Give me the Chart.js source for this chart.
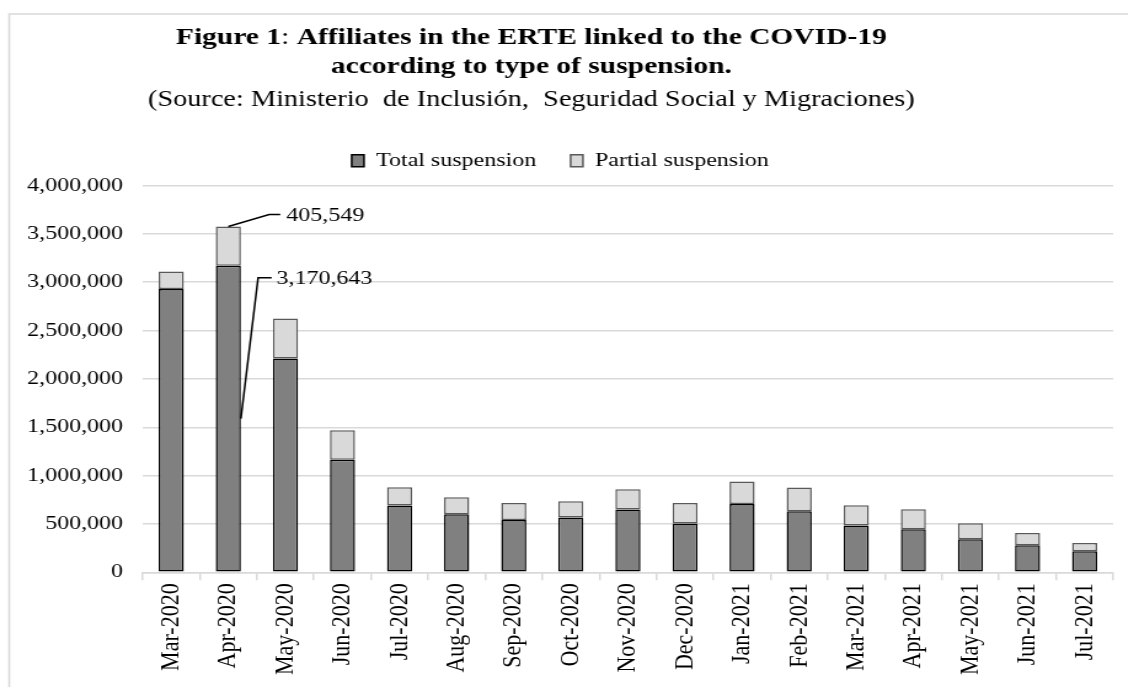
<!DOCTYPE html>
<html>
<head>
<meta charset="utf-8">
<script src="https://cdn.jsdelivr.net/npm/chart.js@4.4.1/dist/chart.umd.min.js"></script>
<style>
  html, body { margin: 0; padding: 0; background: #fff; overflow: hidden; }
  /* imaginea originala e intinsa pe orizontala */
  #wrap { transform: scaleX(1.23); transform-origin: 0 0; width: 917px; height: 687px; }
  canvas { display: block; }
</style>
</head>
<body>
<div id="wrap"><canvas id="myChart" width="917" height="687"></canvas></div>
<script>
// Date
var categories = ['Mar-2020', 'Apr-2020', 'May-2020', 'Jun-2020', 'Jul-2020', 'Aug-2020',
    'Sep-2020', 'Oct-2020', 'Nov-2020', 'Dec-2020', 'Jan-2021', 'Feb-2021', 'Mar-2021',
    'Apr-2021', 'May-2021', 'Jun-2021', 'Jul-2021'];
var totalSuspension = [2930000, 3170643, 2210000, 1164000, 690000, 601000, 542000, 567000,
    650000, 504000, 708000, 632000, 484000, 446000, 342000, 280000, 218000];
var partialSuspension = [180000, 405549, 415000, 306000, 190000, 176000, 176000, 169000,
    210000, 214000, 232000, 245000, 210000, 207000, 166000, 127000, 86000];
var yMin = 0, yMax = 4000000, yStep = 500000;
var labelIndex = 1; // Apr-2020

var serif = "'Liberation Serif', 'Times New Roman', serif";
Chart.defaults.font.family = serif;
Chart.defaults.color = '#000';

function fmt(v) { return Number(v).toLocaleString('en-US'); }

// Titlul si chenarul
var titlePlugin = {
    id: 'titlePlugin',
    beforeInit: function (chart) {
        // un pic mai mult loc sub legenda
        var fit = chart.legend.fit;
        chart.legend.fit = function () {
            fit.call(this);
            this.height += 5;
        };
    },
    afterDraw: function (chart) {
        var ctx = chart.ctx;
        ctx.save();
        // chenar
        ctx.strokeStyle = '#d9d9d9';
        ctx.lineWidth = 1.6;
        ctx.beginPath();
        ctx.moveTo(7.5, 687);
        ctx.lineTo(7.5, 14);
        ctx.lineTo(917, 14);
        ctx.stroke();

        var cx = 432;
        ctx.fillStyle = '#000';
        ctx.textBaseline = 'alphabetic';
        ctx.textAlign = 'left';
        var parts = [
            ['bold 24px ' + serif, 'Figure 1'],
            ['24px ' + serif, ': '],
            ['bold 24px ' + serif, 'Affiliates in the ERTE linked to the COVID-19']
        ];
        var w = 0;
        parts.forEach(function (p) { ctx.font = p[0]; w += ctx.measureText(p[1]).width; });
        var x = cx - w / 2;
        parts.forEach(function (p) {
            ctx.font = p[0];
            ctx.fillText(p[1], x, 44);
            x += ctx.measureText(p[1]).width;
        });
        ctx.textAlign = 'center';
        ctx.font = 'bold 24px ' + serif;
        ctx.fillText('according to type of suspension.', cx, 73);
        ctx.font = '23px ' + serif;
        ctx.fillText('(Source: Ministerio  de Inclusión,  Seguridad Social y Migraciones)', cx, 106);
        ctx.restore();
    }
};

// Etichetele pentru Apr-2020
var labelPlugin = {
    id: 'labelPlugin',
    afterDatasetsDraw: function (chart) {
        var ctx = chart.ctx;
        var dark = chart.getDatasetMeta(0).data[labelIndex];
        var light = chart.getDatasetMeta(1).data[labelIndex];
        var right = dark.x + dark.width / 2;
        ctx.save();
        ctx.strokeStyle = '#000';
        ctx.lineWidth = 1.5;
        ctx.fillStyle = '#000';
        ctx.font = '19.5px ' + serif;
        ctx.textBaseline = 'middle';
        ctx.textAlign = 'left';

        var ty = light.y - 12;
        ctx.beginPath();
        ctx.moveTo(light.x, light.y);
        ctx.lineTo(right + 23, ty);
        ctx.lineTo(right + 32, ty);
        ctx.stroke();
        ctx.fillText(fmt(partialSuspension[labelIndex]), right + 37, ty + 1);

        var my = (dark.y + dark.base) / 2;
        var ty2 = dark.y + 12;
        ctx.beginPath();
        ctx.moveTo(right, my);
        ctx.lineTo(right + 14, ty2);
        ctx.lineTo(right + 25, ty2);
        ctx.stroke();
        ctx.fillText(fmt(totalSuspension[labelIndex]), right + 29, ty2 + 1);
        ctx.restore();
    }
};

var ctx = document.getElementById('myChart').getContext('2d');
var myChart = new Chart(ctx, {
    type: 'bar',
    data: {
        labels: categories,
        datasets: [{
            label: 'Total suspension',
            data: totalSuspension,
            backgroundColor: '#808080',
            borderColor: '#000',
            borderWidth: 1.5,
            borderSkipped: false,
            barPercentage: 0.44,
            categoryPercentage: 1
        }, {
            label: 'Partial suspension',
            data: partialSuspension,
            backgroundColor: '#d9d9d9',
            borderColor: '#595959',
            borderWidth: 1.5,
            borderSkipped: false,
            barPercentage: 0.44,
            categoryPercentage: 1
        }]
    },
    options: {
        responsive: false,
        devicePixelRatio: 1,
        animation: false,
        layout: { padding: { top: 123, left: 6, right: 12, bottom: 9 } },
        plugins: {
            legend: {
                position: 'top',
                labels: {
                    boxWidth: 10,
                    boxHeight: 12,
                    padding: 28,
                    font: { size: 19.5 },
                    color: '#000'
                }
            },
            tooltip: { enabled: false }
        },
        scales: {
            x: {
                stacked: true,
                grid: {
                    offset: true,
                    drawOnChartArea: false,
                    color: '#d9d9d9',
                    lineWidth: 1.5,
                    tickLength: 8
                },
                border: { color: '#d9d9d9', width: 1.5 },
                ticks: {
                    maxRotation: 90,
                    minRotation: 90,
                    padding: 3,
                    font: { size: 22 },
                    color: '#000'
                }
            },
            y: {
                stacked: true,
                min: yMin,
                max: yMax,
                grid: { color: '#d9d9d9', lineWidth: 1.5, drawTicks: false },
                border: { display: false },
                ticks: {
                    stepSize: yStep,
                    padding: 16,
                    font: { size: 19.5 },
                    color: '#000',
                    callback: function (v) { return fmt(v); }
                }
            }
        }
    },
    plugins: [titlePlugin, labelPlugin]
});
</script>
</body>
</html>
